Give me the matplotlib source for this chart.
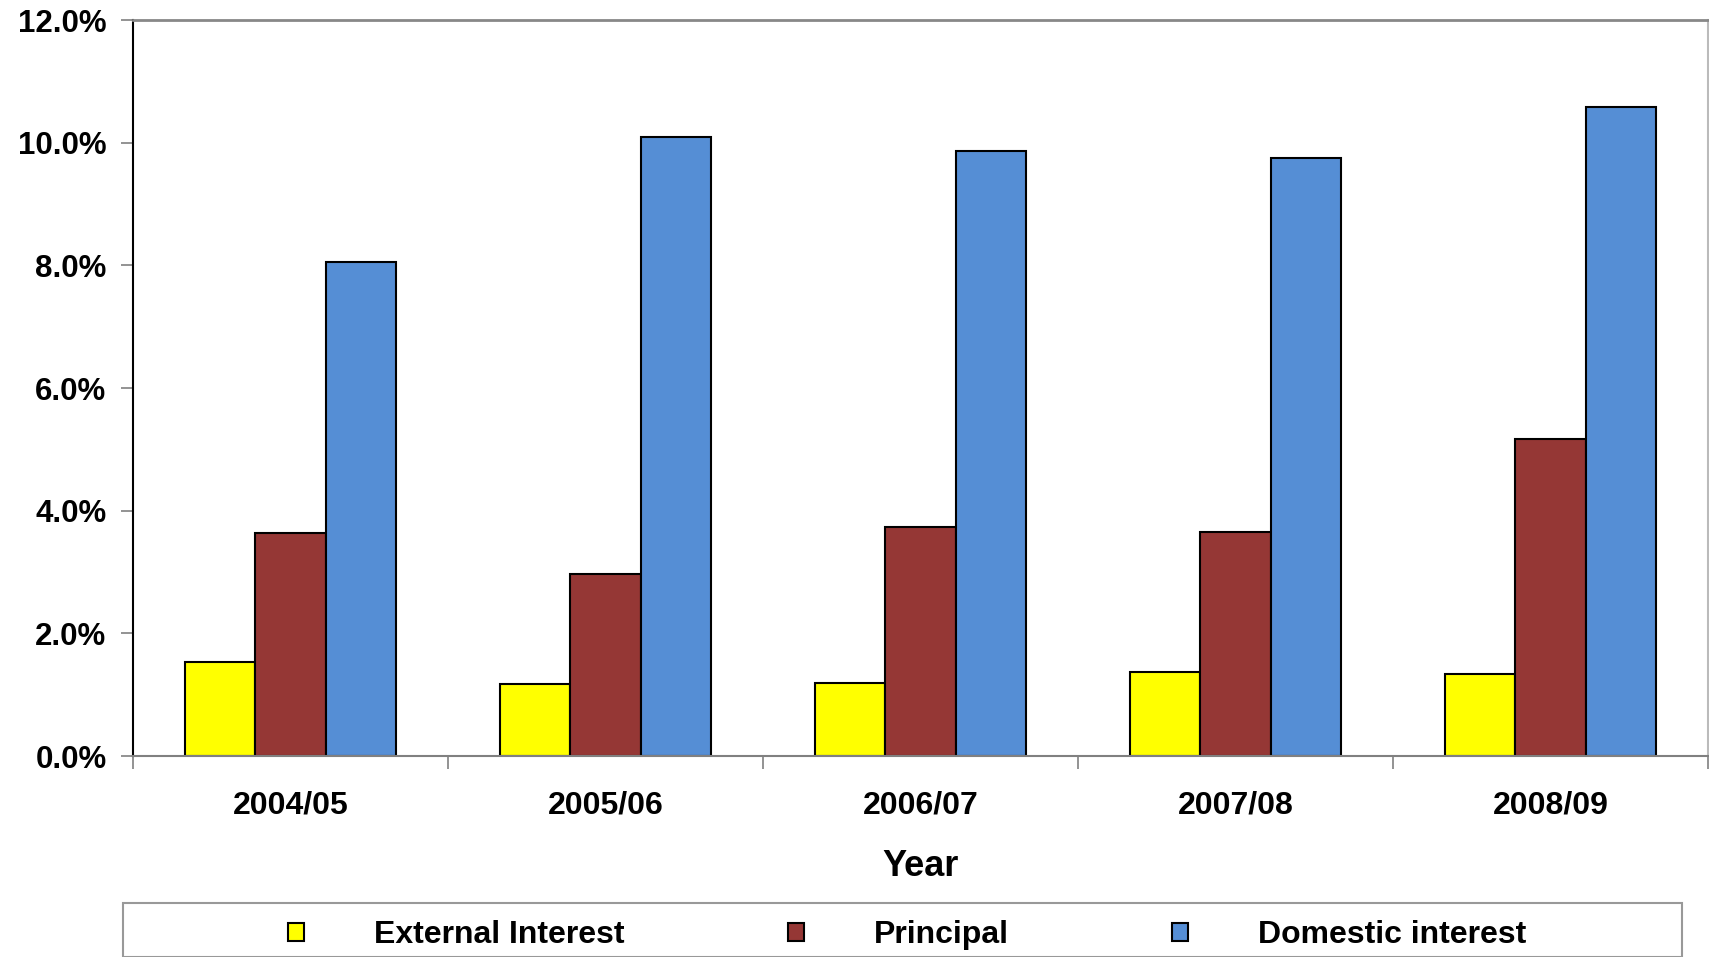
import matplotlib.pyplot as plt
import matplotlib.patches as mpatches
import numpy as np

years = ["2004/05", "2005/06", "2006/07", "2007/08", "2008/09"]
external = [1.54, 1.17, 1.19, 1.37, 1.33]
principal = [3.64, 2.96, 3.73, 3.66, 5.17]
domestic = [8.06, 10.10, 9.87, 9.75, 10.58]
yticks = [0, 2, 4, 6, 8, 10, 12]

plt.rcParams['font.family'] = 'Liberation Sans'
plt.rcParams['font.weight'] = 'bold'

fig = plt.figure(figsize=(17.09, 9.57), dpi=100)
ax = fig.add_axes([133/1709, 1-756/957, (1708-133)/1709, (756-20)/957])

x = np.arange(len(years))
w = 0.224
b1 = ax.bar(x - w, external, w, color="#FFFF00", edgecolor="black", linewidth=1.5, label="External Interest")
b2 = ax.bar(x, principal, w, color="#953735", edgecolor="black", linewidth=1.5, label="Principal")
b3 = ax.bar(x + w, domestic, w, color="#558ED5", edgecolor="black", linewidth=1.5, label="Domestic interest")

ax.set_xlim(-0.5, len(years) - 0.5)
ax.set_ylim(0, 12)
ax.set_yticks(yticks)
ax.set_yticklabels([f"{v:.1f}%" for v in yticks], fontsize=22.5, fontweight='bold')
ax.set_xticks(x)
ax.set_xticklabels(years, fontsize=23, fontweight='bold')
ax.set_xticks(np.arange(-0.5, len(years)), minor=True)
ax.tick_params(axis='x', which='major', length=0, pad=25)
ax.tick_params(axis='x', which='minor', length=9, width=1.2, color='#808080', direction='out')
ax.tick_params(axis='y', length=9, width=1.2, color='#808080', direction='out', pad=10)

ax.spines['left'].set_color('black')
ax.spines['left'].set_linewidth(1.5)
ax.spines['bottom'].set_color('#808080')
ax.spines['bottom'].set_linewidth(1.5)
ax.spines['top'].set_color('#888888')
ax.spines['top'].set_linewidth(2)
ax.spines['right'].set_color('#bbbbbb')
ax.spines['right'].set_linewidth(1.5)

ax.set_xlabel("Year", fontsize=26, fontweight='bold')
ax.xaxis.set_label_coords(0.5, -0.127)

# legend frame
fig.patches.append(mpatches.Rectangle((123/1709, 0), (1682-123)/1709, 1-903/957,
                                      transform=fig.transFigure, facecolor='white',
                                      edgecolor='#999999', linewidth=1.5))

leg = fig.legend(handles=[b1, b2, b3], loc='center left',
                 bbox_to_anchor=(288/1709, 1-935/957), ncol=3, frameon=False,
                 prop={'size': 23, 'weight': 'bold'},
                 handlelength=0.5, handleheight=0.5, handletextpad=2.2,
                 columnspacing=5.1, borderpad=0, borderaxespad=0)

fig.savefig("out.png", dpi=100)
